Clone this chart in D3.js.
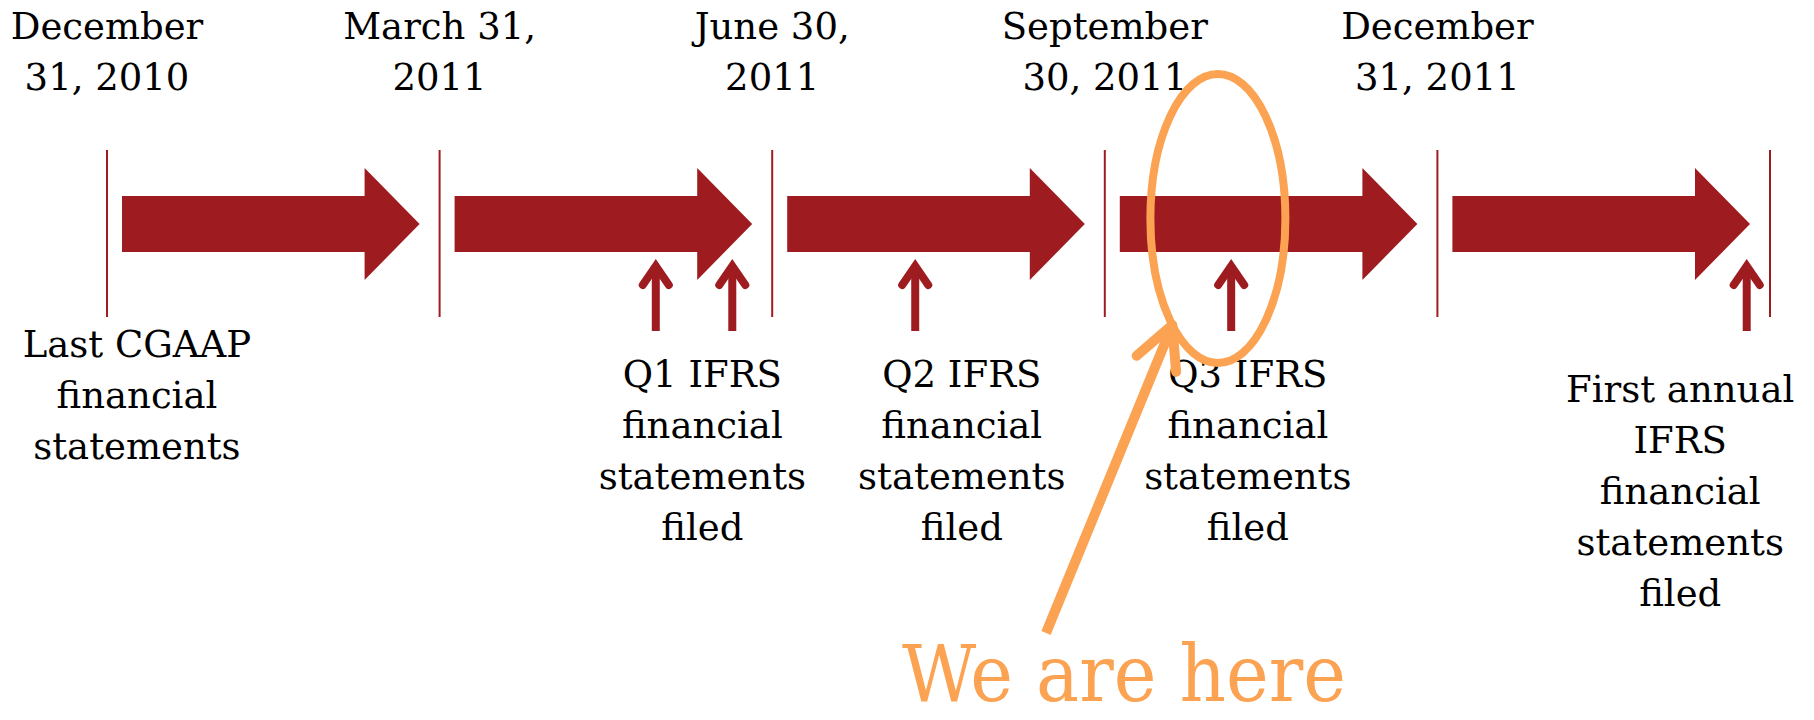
<!DOCTYPE html>
<html>
<head>
<meta charset="utf-8">
<script src="https://d3js.org/d3.v7.min.js"></script>
<style>
  body { margin: 0; background: #fff; }
  text { font-family: 'DejaVu Serif', Georgia, serif; }
</style>
</head>
<body>
<svg id="vis"></svg>
<script>
  // Data: quarter ends (0 = Dec 31 2010 ... 5 = annual filing)
  var quarters = [0, 1, 2, 3, 4, 5];
  var dateLabels = [
    ['December', '31, 2010'],
    ['March 31,', '2011'],
    ['June 30,', '2011'],
    ['September', '30, 2011'],
    ['December', '31, 2011']
  ];
  var periods = [0, 1, 2, 3, 4];              // one big arrow per period
  var filings = [1.65, 1.88, 2.43, 3.38, 4.93]; // small up arrows, in quarters
  var eventAt = [0.09, 1.79, 2.57, 3.43, 4.73];
  var eventText = [
    ['Last CGAAP', 'financial', 'statements'],
    ['Q1 IFRS', 'financial', 'statements', 'filed'],
    ['Q2 IFRS', 'financial', 'statements', 'filed'],
    ['Q3 IFRS', 'financial', 'statements', 'filed'],
    ['First annual', 'IFRS', 'financial', 'statements', 'filed']
  ];
  var nowAt = 3.34;
  var nowText = 'We are here';

  // Setup
  var width = 1814, height = 720;
  var red = '#9e1c20', orange = '#fba352';
  var fontSize = 37, lineGap = 51;
  var eventTop = [357, 387, 387, 387, 402];

  var svg = d3.select('#vis')
    .attr('width', width)
    .attr('height', height);

  var x = d3.scaleLinear()
    .domain([0, 5])
    .range([107, 1770]);

  var line = d3.line().x(function(d) { return d[0] }).y(function(d) { return d[1] });

  // Vertical quarter lines
  svg.selectAll('.qline')
    .data(quarters)
    .enter().append('line')
    .attr('class', 'qline')
    .attr('x1', function(d) { return x(d) })
    .attr('x2', function(d) { return x(d) })
    .attr('y1', 150)
    .attr('y2', 317)
    .attr('stroke', red)
    .attr('stroke-width', 2);

  // Big block arrows
  var cy = 224;
  svg.selectAll('.big')
    .data(periods)
    .enter().append('path')
    .attr('class', 'big')
    .attr('fill', red)
    .attr('d', function(d) {
      var s = x(d) + 15, e = x(d + 1) - 20, h = e - 55;
      return line([[s, cy - 28], [h, cy - 28], [h, cy - 56], [e, cy], [h, cy + 56], [h, cy + 28], [s, cy + 28]]) + 'Z';
    });

  // Small filing arrows
  var small = svg.selectAll('.small')
    .data(filings)
    .enter().append('g')
    .attr('class', 'small');

  small.append('line')
    .attr('x1', function(d) { return x(d) })
    .attr('x2', function(d) { return x(d) })
    .attr('y1', 266)
    .attr('y2', 331)
    .attr('stroke', red)
    .attr('stroke-width', 8);

  small.append('path')
    .attr('d', function(d) { return line([[x(d) - 13, 285], [x(d), 266], [x(d) + 13, 285]]) })
    .attr('fill', 'none')
    .attr('stroke', red)
    .attr('stroke-width', 8)
    .attr('stroke-linecap', 'round')
    .attr('stroke-linejoin', 'miter');

  // Date labels on top
  var dl = svg.selectAll('.date')
    .data(dateLabels)
    .enter().append('text')
    .attr('class', 'date')
    .attr('text-anchor', 'middle')
    .attr('font-size', fontSize)
    .attr('fill', '#000');

  dl.selectAll('tspan')
    .data(function(d, i) { return d.map(function(t) { return {t: t, i: i} }) })
    .enter().append('tspan')
    .attr('x', function(d) { return x(quarters[d.i]) })
    .attr('y', function(d, j) { return 39 + j * lineGap })
    .text(function(d) { return d.t });

  // Event labels below
  var ev = svg.selectAll('.event')
    .data(eventText)
    .enter().append('text')
    .attr('class', 'event')
    .attr('text-anchor', 'middle')
    .attr('font-size', fontSize)
    .attr('fill', '#000');

  ev.selectAll('tspan')
    .data(function(d, i) { return d.map(function(t) { return {t: t, i: i} }) })
    .enter().append('tspan')
    .attr('x', function(d) { return x(eventAt[d.i]) })
    .attr('y', function(d, j) { return eventTop[d.i] + j * lineGap })
    .text(function(d) { return d.t });

  // "We are here" ellipse
  var ex = x(nowAt), ey = 218.5, rx = 67.5, ry = 144.5;
  svg.append('ellipse')
    .attr('cx', ex)
    .attr('cy', ey)
    .attr('rx', rx)
    .attr('ry', ry)
    .attr('fill', 'none')
    .attr('stroke', orange)
    .attr('stroke-width', 8);

  // Pointer from text up to the ellipse
  var t = 132.5 * Math.PI / 180;
  var tip = [ex + rx * Math.cos(t), ey + ry * Math.sin(t)];
  var tail = [1046, 633];
  var back = Math.atan2(tail[1] - tip[1], tail[0] - tip[0]);
  var wing = 27 * Math.PI / 180, wl = 47;

  svg.append('path')
    .attr('d', line([tail, tip]))
    .attr('stroke', orange)
    .attr('stroke-width', 10)
    .attr('stroke-linecap', 'butt');

  svg.append('path')
    .attr('d', line([
      [tip[0] + wl * Math.cos(back + wing), tip[1] + wl * Math.sin(back + wing)],
      tip,
      [tip[0] + wl * Math.cos(back - wing), tip[1] + wl * Math.sin(back - wing)]
    ]))
    .attr('fill', 'none')
    .attr('stroke', orange)
    .attr('stroke-width', 10)
    .attr('stroke-linecap', 'round')
    .attr('stroke-linejoin', 'round');

  svg.append('text')
    .attr('x', 902)
    .attr('y', 701)
    .attr('font-size', 78)
    .attr('textLength', 444)
    .attr('lengthAdjust', 'spacingAndGlyphs')
    .attr('fill', orange)
    .text(nowText);
</script>
</body>
</html>
